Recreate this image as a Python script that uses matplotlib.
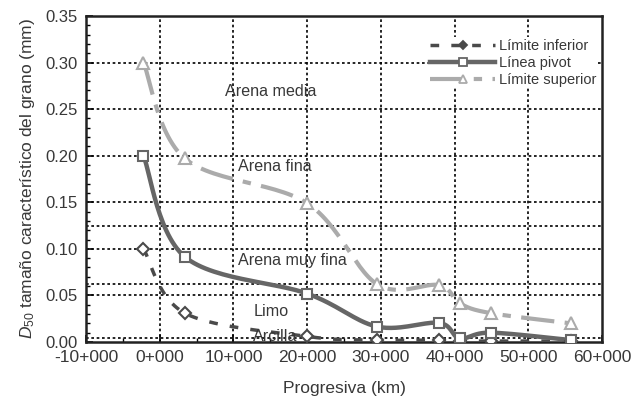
import numpy as np
import matplotlib
matplotlib.use("Agg")
import matplotlib.pyplot as plt
from matplotlib.lines import Line2D

plt.rcParams['font.family'] = ['Liberation Sans', 'DejaVu Sans']
plt.rcParams['mathtext.fontset'] = 'custom'
plt.rcParams['mathtext.it'] = 'Liberation Sans:italic'
plt.rcParams['mathtext.rm'] = 'Liberation Sans'

# Data (km, mm)
km = [-2.2, 3.4, 20.0, 29.5, 37.9, 40.7, 44.9, 55.8]
lim_inferior = [0.100, 0.031, 0.006, 0.002, 0.002, 0.001, 0.001, 0.001]
linea_pivot = [0.200, 0.0915, 0.052, 0.0165, 0.0205, 0.004, 0.010, 0.002]
lim_superior = [0.300, 0.197, 0.149, 0.062, 0.061, 0.0415, 0.031, 0.020]

x_ticks = [-10, 0, 10, 20, 30, 40, 50, 60]
x_ticklabels = ['-10+000', '0+000', '10+000', '20+000', '30+000', '40+000', '50+000', '60+000']
y_ticks = [0.00, 0.05, 0.10, 0.15, 0.20, 0.25, 0.30, 0.35]
grain_limits = [0.30, 0.25, 0.20, 0.15, 0.125, 0.10, 0.0625, 0.05, 0.004]
zone_labels = ['Arena media', 'Arena fina', 'Arena muy fina', 'Limo', 'Arcilla']
zone_pos = [(15.0, 0.269), (15.6, 0.188), (18.0, 0.088), (15.1, 0.0325), (15.6, 0.0064)]

TXT = '#383838'


def smooth(x, y, n=30):
    """Excel-style smoothed line (Catmull-Rom Bezier)."""
    p = np.column_stack([x, y]).astype(float)
    out = []
    for i in range(len(p) - 1):
        p0 = p[i - 1] if i > 0 else p[i]
        p1 = p[i]
        p2 = p[i + 1]
        p3 = p[i + 2] if i + 2 < len(p) else p[i + 1]
        c1 = p1 + (p2 - p0) / 6.0
        c2 = p2 - (p3 - p1) / 6.0
        t = np.linspace(0, 1, n)[:, None]
        seg = ((1 - t) ** 3) * p1 + 3 * ((1 - t) ** 2) * t * c1 + 3 * (1 - t) * t ** 2 * c2 + t ** 3 * p2
        out.append(seg if i == 0 else seg[1:])
    s = np.vstack(out)
    return s[:, 0], s[:, 1]


fig = plt.figure(figsize=(6.37, 4.05), dpi=100)
ax = fig.add_axes([0.135, 0.1556, 0.810, 0.805])

# grid
grid_ls = (0, (1.6, 1.6))
for xv in x_ticks[1:-1]:
    ax.axvline(xv, color='black', ls=grid_ls, lw=1.2, zorder=1)
for yv in grain_limits:
    ax.axhline(yv, color='black', ls=grid_ls, lw=1.2, zorder=1)

series = [
    ('Límite inferior', lim_inferior, '#4a4a4a', 2.5, (0, (2.5, 3.5)), 'D', 6),
    ('Línea pivot', linea_pivot, '#666666', 3.2, '-', 's', 7.5),
    ('Límite superior', lim_superior, '#ababab', 3.0, (0, (8, 2.5, 2, 2.5)), '^', 8.5),
]
handles = []
for name, vals, col, lw, ls, mk, ms in series:
    sx, sy = smooth(km, vals)
    ax.plot(sx, sy, color=col, lw=lw, ls=ls, zorder=3, solid_capstyle='butt', dash_capstyle='butt')
    ax.plot(km, vals, ls='none', marker=mk, ms=ms, mfc='white', mec=col, mew=1.5, zorder=4)
    handles.append(Line2D([], [], color=col, lw=lw, ls=ls, marker=mk, ms=ms * 0.75,
                          mfc='white' if mk != 'D' else col, mec=col, mew=1.3))

for lab, (xx, yy) in zip(zone_labels, zone_pos):
    ax.text(xx, yy, lab, ha='center', va='center', fontsize=11.6, color=TXT, zorder=5)

leg = ax.legend(handles, [s[0] for s in series], loc='upper right', bbox_to_anchor=(0.992, 0.935),
                frameon=True, fontsize=10.5, handlelength=4.4, handletextpad=0.3,
                labelspacing=0.22, borderpad=0.1, borderaxespad=0.0)
leg.get_frame().set_edgecolor('none')
leg.get_frame().set_facecolor('white')
leg.get_frame().set_alpha(1)
leg.set_zorder(6)
for t in leg.get_texts():
    t.set_color(TXT)

ax.set_xlim(-10, 60)
ax.set_ylim(0, 0.35)
ax.set_xticks(x_ticks)
ax.set_xticklabels(x_ticklabels)
ax.set_yticks(y_ticks)
ax.set_yticklabels([f'{v:.2f}' for v in y_ticks])
ax.set_xticks(np.arange(-10, 61, 5), minor=True)
ax.set_yticks(np.arange(0, 0.351, 0.01), minor=True)
ax.tick_params(axis='both', which='major', direction='in', length=5, width=1.2,
               labelcolor=TXT, pad=6)
ax.tick_params(axis='y', which='major', labelsize=12)
ax.tick_params(axis='x', which='major', labelsize=12.5)
ax.tick_params(axis='both', which='minor', direction='in', length=3, width=1.0)
for sp in ax.spines.values():
    sp.set_linewidth(1.8)
    sp.set_color('#222222')

ax.set_xlabel('Progresiva (km)', fontsize=12.5, color=TXT, labelpad=11)
ax.set_ylabel(r'$D_{50}$ tamaño característico del grano (mm)', fontsize=12.5, color=TXT, labelpad=6)

fig.savefig('out.png', dpi=100)
